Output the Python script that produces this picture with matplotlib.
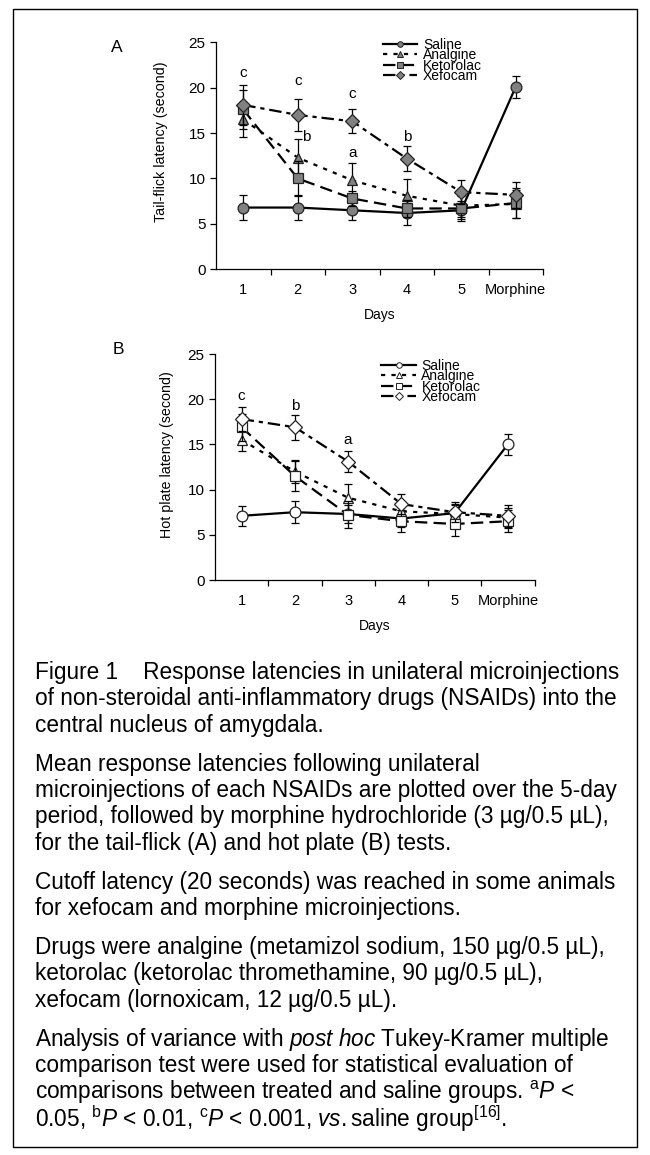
import matplotlib
matplotlib.use("Agg")
import matplotlib.pyplot as plt
from matplotlib.lines import Line2D
from matplotlib.patches import Rectangle

plt.rcParams['font.family'] = ['Liberation Sans', 'DejaVu Sans']
plt.rcParams['mathtext.fontset'] = 'custom'
plt.rcParams['mathtext.rm'] = 'Liberation Sans'
plt.rcParams['mathtext.it'] = 'Liberation Sans:italic'

# categories
days = ['1', '2', '3', '4', '5', 'Morphine']
groups = ['Saline', 'Analgine', 'Ketorolac', 'Xefocam']

# A: tail-flick latency (s), mean and error
tf_saline = [6.8, 6.8, 6.5, 6.2, 6.5, 20.1]
tf_saline_err = [1.4, 1.4, 1.1, 1.3, 1.0, 1.2]
tf_analgine = [16.5, 12.3, 9.8, 8.1, 7.0, 7.2]
tf_analgine_err = [1.9, 2.0, 1.9, 1.8, 1.2, 1.5]
tf_ketorolac = [17.6, 10.0, 7.8, 6.7, 6.7, 7.3]
tf_ketorolac_err = [2.2, 1.9, 0.8, 0.9, 1.4, 1.7]
tf_xefocam = [18.1, 17.0, 16.3, 12.2, 8.5, 8.2]
tf_xefocam_err = [2.2, 1.8, 1.3, 1.4, 1.3, 1.4]

# B: hot plate latency (s), mean and error
hp_saline = [7.1, 7.5, 7.3, 6.8, 7.4, 15.0]
hp_saline_err = [1.1, 1.2, 1.0, 0.9, 1.0, 1.2]
hp_analgine = [15.5, 12.0, 9.1, 7.6, 7.3, 6.9]
hp_analgine_err = [1.2, 1.3, 1.5, 1.0, 1.0, 1.1]
hp_ketorolac = [16.9, 11.5, 7.2, 6.5, 6.2, 6.5]
hp_ketorolac_err = [1.5, 1.7, 1.5, 1.2, 1.3, 1.2]
hp_xefocam = [17.8, 16.9, 13.1, 8.4, 7.5, 7.1]
hp_xefocam_err = [1.3, 1.4, 1.2, 1.1, 1.1, 1.2]

# significance letters (label, x position in day units, y)
tf_sig = [('c', 1, 21.6), ('c', 2, 20.7), ('c', 3, 19.3),
          ('b', 2.15, 14.6), ('a', 3, 12.8), ('b', 4, 14.6)]
hp_sig = [('c', 1, 20.3), ('b', 2, 19.3), ('a', 3, 15.5)]

caption = [
    ["Figure 1    Response latencies in unilateral microinjections",
     "of non-steroidal anti-inflammatory drugs (NSAIDs) into the",
     "central nucleus of amygdala."],
    ["Mean response latencies following unilateral",
     "microinjections of each NSAIDs are plotted over the 5-day",
     "period, followed by morphine hydrochloride (3 µg/0.5 µL),",
     "for the tail-flick (A) and hot plate (B) tests."],
    ["Cutoff latency (20 seconds) was reached in some animals",
     "for xefocam and morphine microinjections."],
    ["Drugs were analgine (metamizol sodium, 150 µg/0.5 µL),",
     "ketorolac (ketorolac thromethamine, 90 µg/0.5 µL),",
     "xefocam (lornoxicam, 12 µg/0.5 µL)."],
    [r"Analysis of variance with $\mathit{post\ hoc}$ Tukey-Kramer multiple",
     "comparison test were used for statistical evaluation of",
     r"comparisons between treated and saline groups. $^{\mathrm{a}}\mathit{P}$ <",
     r"0.05, $^{\mathrm{b}}\mathit{P}$ < 0.01, $^{\mathrm{c}}\mathit{P}$ < 0.001, "
     r"$\mathit{vs.}$saline group$^{\mathrm{[16]}}$."],
]

markers = ['o', '^', 's', 'D']
msizes = [7.8, 7.8, 6.8, 6.8]
lw = 1.6
styles = ['-', (0, (1.9, 2.8)), (0, (5.6, 2.8)), (0, (5.6, 2.2, 1.9, 2.2))]


def draw_panel(ax, series, errors, sig, face, ylabel, label_xy, leg_anchor):
    x = list(range(1, len(days) + 1))
    for i, (vals, errs) in enumerate(zip(series, errors)):
        ax.errorbar(x, vals, yerr=errs, fmt='none', ecolor='black',
                    elinewidth=0.9, capsize=2.8, capthick=0.9, zorder=2 + i)
        ax.plot(x, vals, color='black', lw=lw, linestyle=styles[i],
                marker=markers[i], markersize=msizes[i], markerfacecolor=face,
                markeredgecolor='#222222', markeredgewidth=0.9, zorder=3 + i)
    for lab, xs, ys in sig:
        ax.text(xs, ys, lab, ha='center', va='center', fontsize=11)

    ax.set_xlim(0.5, len(days) + 0.5)
    ax.set_ylim(0, 25)
    ax.set_yticks([0, 5, 10, 15, 20, 25])
    ax.set_xticks([k + 0.5 for k in range(1, len(days) + 1)])
    ax.set_xticklabels([])
    ax.set_xticks(x, minor=True)
    ax.set_xticklabels(days, minor=True)
    ax.tick_params(axis='x', which='major', direction='out', length=4, width=0.9)
    ax.tick_params(axis='x', which='minor', length=0, pad=10, labelsize=10.5)
    ax.tick_params(axis='y', direction='out', length=4, width=0.9, labelsize=11)
    for s in ['top', 'right']:
        ax.spines[s].set_visible(False)
    for s in ['left', 'bottom']:
        ax.spines[s].set_linewidth(0.9)
    ax.set_xlabel('Days', fontsize=10, labelpad=8)
    ax.set_ylabel(ylabel, fontsize=10.3)
    ax.yaxis.set_label_coords(label_xy[0], label_xy[1])

    handles = [Line2D([], [], color='black', lw=lw, linestyle=styles[i],
                      marker=markers[i], markersize=4, markerfacecolor=face,
                      markeredgecolor='#222222', markeredgewidth=0.7)
               for i in range(len(groups))]
    ax.legend(handles, groups, loc='upper left', bbox_to_anchor=leg_anchor,
              frameon=False, fontsize=10, handlelength=2.5, handletextpad=0.4,
              labelspacing=-0.25, borderpad=0, borderaxespad=0)


fig = plt.figure(figsize=(6.5, 11.55), dpi=100)

axA = fig.add_axes([216 / 650, 1 - 269.3 / 1155, 327 / 650, 227 / 1155])
draw_panel(axA, [tf_saline, tf_analgine, tf_ketorolac, tf_xefocam],
           [tf_saline_err, tf_analgine_err, tf_ketorolac_err, tf_xefocam_err],
           tf_sig, '#808080', 'Tail-flick latency (second)', (-0.147, 0.56),
           (0.51, 1.02))
fig.text(117 / 650, 1 - 48 / 1155, 'A', fontsize=12.5, ha='center', va='center')

axB = fig.add_axes([215 / 650, 1 - 580 / 1155, 319.5 / 650, 226 / 1155])
draw_panel(axB, [hp_saline, hp_analgine, hp_ketorolac, hp_xefocam],
           [hp_saline_err, hp_analgine_err, hp_ketorolac_err, hp_xefocam_err],
           hp_sig, 'white', 'Hot plate latency (second)', (-0.129, 0.553),
           (0.52, 0.98))
fig.text(118 / 650, 1 - 349 / 1155, 'B', fontsize=12.5, ha='center', va='center')

# caption, paragraph by paragraph
y = 670
for para in caption:
    for line in para:
        fig.text(35 / 650, 1 - y / 1155, line, fontsize=16.3, ha='left',
                 va='center_baseline')
        y += 26.4
    y += 12.4

fig.add_artist(Rectangle((13 / 650, 8 / 1155), 624 / 650, 1138 / 1155,
                         transform=fig.transFigure, fill=False,
                         edgecolor='black', linewidth=1.0))

fig.savefig('out.png', dpi=100)
